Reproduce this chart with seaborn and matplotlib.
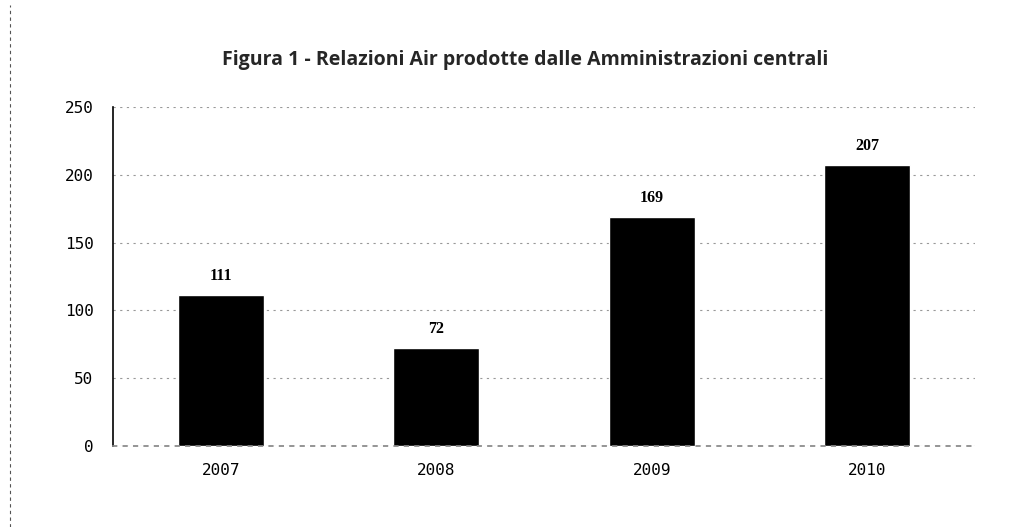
import pandas as pd
import seaborn as sns
import matplotlib.pyplot as plt
from matplotlib.lines import Line2D

anni = ["2007", "2008", "2009", "2010"]
relazioni = [111, 72, 169, 207]
y_ticks = [0, 50, 100, 150, 200, 250]

df = pd.DataFrame({"anno": anni, "relazioni": relazioni})

sns.set_theme(style="white", rc={"axes.facecolor": "white", "figure.facecolor": "white"})

fig = plt.figure(figsize=(10.29, 5.27), dpi=100)
ax = fig.add_axes([0.1098, 0.1537, 0.8377, 0.6433])

sns.barplot(data=df, x="anno", y="relazioni", color="black", width=0.4,
            saturation=1, ax=ax)

ax.set_ylim(0, 250)
ax.set_xlim(-0.5, 3.5)
ax.set_yticks(y_ticks)
ax.yaxis.grid(True, linestyle=(0, (2, 4)), color="#999999", linewidth=0.8)
ax.set_axisbelow(True)

for s in ["top", "right"]:
    ax.spines[s].set_visible(False)
ax.spines["left"].set_color("black")
ax.spines["left"].set_linewidth(1.2)
ax.spines["bottom"].set_linestyle((0, (2, 4)))
ax.spines["bottom"].set_color("#888888")

ax.set_xlabel("")
ax.set_ylabel("")
ax.tick_params(axis="both", length=0, pad=14, labelsize=11.5, colors="black")
for lab in ax.get_xticklabels() + ax.get_yticklabels():
    lab.set_family("DejaVu Sans Mono")
ax.tick_params(axis="x", pad=12)

# etichette sopra le barre
for p, v in zip(ax.patches, relazioni):
    ax.annotate(f"{v}", (p.get_x() + p.get_width() / 2., p.get_height()),
                ha="center", va="bottom", xytext=(0, 8), textcoords="offset points",
                fontsize=11.5, fontweight="bold", family="Liberation Serif", color="black")

fig.text(0.510, 0.886, "Figura 1 - Relazioni Air prodotte dalle Amministrazioni centrali",
         ha="center", va="center", fontsize=14, fontweight="bold", family="Open Sans")

# bordo tratteggiato della scansione
fig.add_artist(Line2D([0.0097, 0.0097], [0.0, 0.99], transform=fig.transFigure,
                      color="#555555", linestyle=(0, (3, 3)), linewidth=0.8))

fig.savefig("out.png", dpi=100)
